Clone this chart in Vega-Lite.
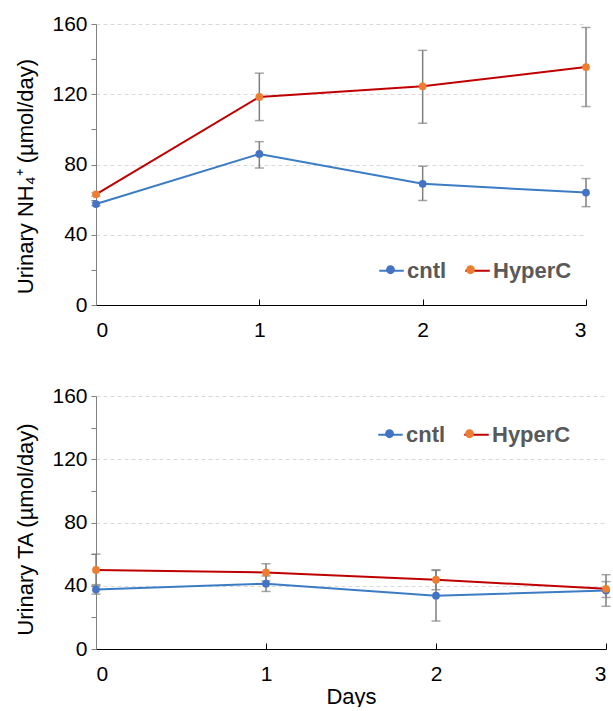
{
  "$schema": "https://vega.github.io/schema/vega-lite/v6.json",
  "padding": {"top": 13, "left": 14, "right": 4, "bottom": 0},
  "background": "white",
  "config": {
    "font": "Liberation Sans",
    "view": {"stroke": null},
    "axis": {"labelFont": "Liberation Sans", "titleFont": "Liberation Sans", "labelColor": "#000000", "titleColor": "#000000", "labelFontSize": 21, "titleFontSize": 22, "titleFontWeight": "normal"},
    "legend": {"labelFont": "Liberation Sans", "labelFontSize": 22, "labelFontWeight": "bold", "labelColor": "#595959", "padding": 0, "labelOffset": 2, "columnPadding": 14, "symbolSize": 600, "direction": "horizontal", "orient": "none", "title": null}
  },
  "datasets": {
    "vals": [
      {"panel": "NH4", "day": 0, "group": "cntl", "mean": 57.5, "lo": 56.5, "hi": 58.5},
      {"panel": "NH4", "day": 1, "group": "cntl", "mean": 86, "lo": 78, "hi": 93},
      {"panel": "NH4", "day": 2, "group": "cntl", "mean": 69, "lo": 59.5, "hi": 79},
      {"panel": "NH4", "day": 3, "group": "cntl", "mean": 64, "lo": 56, "hi": 72},
      {"panel": "NH4", "day": 0, "group": "HyperC", "mean": 63, "lo": 62, "hi": 64},
      {"panel": "NH4", "day": 1, "group": "HyperC", "mean": 118.5, "lo": 105, "hi": 132},
      {"panel": "NH4", "day": 2, "group": "HyperC", "mean": 124.5, "lo": 103.5, "hi": 145},
      {"panel": "NH4", "day": 3, "group": "HyperC", "mean": 135.5, "lo": 113, "hi": 158},
      {"panel": "TA", "day": 0, "group": "cntl", "mean": 37.7, "lo": 34.7, "hi": 40.7},
      {"panel": "TA", "day": 1, "group": "cntl", "mean": 41.3, "lo": 36.4, "hi": 46.2},
      {"panel": "TA", "day": 2, "group": "cntl", "mean": 33.7, "lo": 17.7, "hi": 49.7},
      {"panel": "TA", "day": 3, "group": "cntl", "mean": 37, "lo": 27, "hi": 47},
      {"panel": "TA", "day": 0, "group": "HyperC", "mean": 50, "lo": 40, "hi": 60},
      {"panel": "TA", "day": 1, "group": "HyperC", "mean": 48.4, "lo": 43, "hi": 53.9},
      {"panel": "TA", "day": 2, "group": "HyperC", "mean": 43.8, "lo": 37.5, "hi": 50.1},
      {"panel": "TA", "day": 3, "group": "HyperC", "mean": 38.1, "lo": 32.6, "hi": 42.6}
    ]
  },
  "spacing": 45,
  "resolve": {"legend": {"fill": "independent", "stroke": "independent"}},
  "vconcat": [
    {
      "width": 490,
      "height": 281,
      "data": {"name": "vals"},
      "transform": [{"filter": "datum.panel === 'NH4'"}],
      "encoding": {
        "x": {"field": "day", "type": "quantitative", "scale": {"domain": [0, 3], "nice": false, "zero": false},
          "axis": {"title": null, "values": [0, 1, 2, 3], "format": "d", "domainColor": "#000000", "tickColor": "#000000", "tickSize": -6, "labelPadding": 20, "grid": false}},
        "y": {"field": "mean", "type": "quantitative", "scale": {"domain": [0, 160], "nice": false},
          "axis": {"title": "Urinary NH₄⁺ (µmol/day)", "titleY": 152, "values": [0, 20, 40, 60, 80, 100, 120, 140, 160], "labelExpr": "datum.value % 40 === 0 ? datum.label : ''", "domainColor": "#808080", "tickColor": "#808080", "tickSize": 5, "labelPadding": 4, "titlePadding": 14, "grid": true, "gridDash": [4, 3], "gridColor": {"condition": {"test": "datum.value % 40 === 0 && datum.value > 0", "value": "#d9d9d9"}, "value": "transparent"}}}
      },
      "layer": [
        {
          "mark": {"type": "errorbar", "color": "#7f7f7f", "thickness": 1.5, "ticks": {"size": 9, "color": "#7f7f7f", "thickness": 1.5}},
          "encoding": {
            "y": {"field": "lo", "type": "quantitative", "scale": {"domain": [0, 160], "nice": false},
              "axis": {"title": "Urinary NH₄⁺ (µmol/day)", "titleY": 152, "values": [0, 20, 40, 60, 80, 100, 120, 140, 160], "labelExpr": "datum.value % 40 === 0 ? datum.label : ''", "domainColor": "#808080", "tickColor": "#808080", "tickSize": 5, "labelPadding": 4, "titlePadding": 14, "grid": true, "gridDash": [4, 3], "gridColor": {"condition": {"test": "datum.value % 40 === 0 && datum.value > 0", "value": "#d9d9d9"}, "value": "transparent"}}},
            "y2": {"field": "hi"},
            "detail": {"field": "group"}
          }
        },
        {
          "mark": {"type": "line", "strokeWidth": 2},
          "encoding": {
            "stroke": {"field": "group", "type": "nominal", "sort": ["cntl", "HyperC"], "scale": {"range": ["#3c7cc4", "#c00000"]}, "legend": {"legendX": 282, "legendY": 233, "symbolType": "M-1,0H1", "symbolStrokeWidth": 2}}
          }
        },
        {
          "mark": {"type": "point", "filled": true, "size": 60, "opacity": 1},
          "encoding": {
            "fill": {"field": "group", "type": "nominal", "scale": {"domain": ["cntl", "HyperC"], "range": ["#4472c4", "#ed7d31"]}, "legend": {"legendX": 282, "legendY": 233, "symbolType": "M0.36,0A0.36,0.36,0,1,1,-0.36,0A0.36,0.36,0,1,1,0.36,0Z", "symbolStrokeWidth": 0, "symbolOpacity": 1, "labelExpr": "''", "labelOffset": 0, "columnPadding": 55}}
          }
        }
      ]
    },
    {
      "width": 510,
      "height": 253,
      "data": {"name": "vals"},
      "transform": [{"filter": "datum.panel === 'TA'"}],
      "encoding": {
        "x": {"field": "day", "type": "quantitative", "scale": {"domain": [0, 3], "nice": false, "zero": false},
          "axis": {"title": "Days", "titlePadding": 2, "values": [0, 1, 2, 3], "format": "d", "domainColor": "#000000", "tickColor": "#000000", "tickSize": -6, "labelPadding": 20, "grid": false}},
        "y": {"field": "mean", "type": "quantitative", "scale": {"domain": [0, 160], "nice": false},
          "axis": {"title": "Urinary TA (µmol/day)", "titleY": 133, "values": [0, 20, 40, 60, 80, 100, 120, 140, 160], "labelExpr": "datum.value % 40 === 0 ? datum.label : ''", "domainColor": "#808080", "tickColor": "#808080", "tickSize": 5, "labelPadding": 4, "titlePadding": 14, "grid": true, "gridDash": [4, 3], "gridColor": {"condition": {"test": "datum.value % 40 === 0 && datum.value > 0", "value": "#d9d9d9"}, "value": "transparent"}}}
      },
      "layer": [
        {
          "mark": {"type": "errorbar", "color": "#7f7f7f", "thickness": 1.5, "ticks": {"size": 9, "color": "#7f7f7f", "thickness": 1.5}},
          "encoding": {
            "y": {"field": "lo", "type": "quantitative", "scale": {"domain": [0, 160], "nice": false},
              "axis": {"title": "Urinary TA (µmol/day)", "titleY": 133, "values": [0, 20, 40, 60, 80, 100, 120, 140, 160], "labelExpr": "datum.value % 40 === 0 ? datum.label : ''", "domainColor": "#808080", "tickColor": "#808080", "tickSize": 5, "labelPadding": 4, "titlePadding": 14, "grid": true, "gridDash": [4, 3], "gridColor": {"condition": {"test": "datum.value % 40 === 0 && datum.value > 0", "value": "#d9d9d9"}, "value": "transparent"}}},
            "y2": {"field": "hi"},
            "detail": {"field": "group"}
          }
        },
        {
          "mark": {"type": "line", "strokeWidth": 2},
          "encoding": {
            "stroke": {"field": "group", "type": "nominal", "sort": ["cntl", "HyperC"], "scale": {"range": ["#3c7cc4", "#c00000"]}, "legend": {"legendX": 281, "legendY": 25, "symbolType": "M-1,0H1", "symbolStrokeWidth": 2}}
          }
        },
        {
          "mark": {"type": "point", "filled": true, "size": 60, "opacity": 1},
          "encoding": {
            "fill": {"field": "group", "type": "nominal", "scale": {"domain": ["cntl", "HyperC"], "range": ["#4472c4", "#ed7d31"]}, "legend": {"legendX": 281, "legendY": 25, "symbolType": "M0.36,0A0.36,0.36,0,1,1,-0.36,0A0.36,0.36,0,1,1,0.36,0Z", "symbolStrokeWidth": 0, "symbolOpacity": 1, "labelExpr": "''", "labelOffset": 0, "columnPadding": 55}}
          }
        }
      ]
    }
  ]
}
